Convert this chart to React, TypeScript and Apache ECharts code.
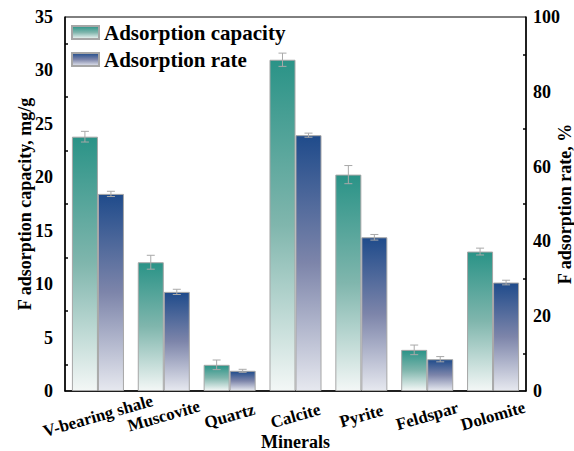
import React, { useEffect, useRef } from "react";
import * as echarts from "echarts";

// Minerals tested and their fluoride uptake (mean ± error)
const minerals = ["V-bearing shale", "Muscovite", "Quartz", "Calcite", "Pyrite", "Feldspar", "Dolomite"];
const capacity = [23.8, 12.05, 2.45, 31.0, 20.25, 3.85, 13.05];
const capacityErr = [0.5, 0.65, 0.45, 0.62, 0.85, 0.45, 0.32];
const rate = [52.7, 26.5, 5.4, 68.4, 41.1, 8.5, 29.0];
const rateErr = [0.7, 0.7, 0.4, 0.55, 0.75, 0.7, 0.62];

const FONT = "'Liberation Serif', 'Times New Roman', serif";
const CAT_GAP = 0.21; // share of the category band left empty

const tealFill = new echarts.graphic.LinearGradient(0, 0, 0, 1, [
  { offset: 0, color: "#2a9387" },
  { offset: 0.5, color: "#80b6ad" },
  { offset: 1, color: "#f3f7f6" },
]);
const blueFill = new echarts.graphic.LinearGradient(0, 0, 0, 1, [
  { offset: 0, color: "#1f4b8b" },
  { offset: 0.5, color: "#7d85aa" },
  { offset: 1, color: "#e6e8ef" },
]);

// Error bar (vertical whisker with caps) drawn beside the category centre
function errorBar(shift: number) {
  return (params: any, api: any) => {
    const i = api.value(0);
    const v = api.value(1);
    const e = api.value(2);
    const band = api.size([1, 0])[0];
    const dx = shift * band * (1 - CAT_GAP) / 4;
    const hi = api.coord([i, v + e]);
    const lo = api.coord([i, v - e]);
    const x = hi[0] + dx;
    const cap = 4;
    const style = { stroke: "#a9a9a9", lineWidth: 1 };
    return {
      type: "group",
      children: [
        { type: "line", shape: { x1: x, y1: hi[1], x2: x, y2: lo[1] }, style },
        { type: "line", shape: { x1: x - cap, y1: hi[1], x2: x + cap, y2: hi[1] }, style },
        { type: "line", shape: { x1: x - cap, y1: lo[1], x2: x + cap, y2: lo[1] }, style },
      ],
    };
  };
}

export default function App() {
  const ref = useRef<HTMLDivElement>(null);

  useEffect(() => {
    if (!ref.current) return;
    const chart = echarts.init(ref.current, null, { renderer: "svg" });
    const bold = { fontFamily: FONT, fontWeight: "bold" as const, color: "#000" };

    chart.setOption({
      animation: false,
      backgroundColor: "#fff",
      textStyle: { fontFamily: FONT },
      grid: {
        left: 65,
        right: 48,
        top: 17,
        bottom: 60,
        outerBoundsMode: "none",
        containLabel: false,
        show: true,
        borderColor: "#000",
        borderWidth: 1,
      },
      legend: {
        data: ["Adsorption capacity", "Adsorption rate"],
        orient: "vertical",
        left: 71,
        top: 22,
        padding: 0,
        itemWidth: 27,
        itemHeight: 13,
        itemGap: 6,
        icon: "rect",
        textStyle: { ...bold, fontSize: 21 },
      },
      xAxis: {
        type: "category",
        data: minerals,
        name: "Minerals",
        nameLocation: "middle",
        nameGap: 42,
        nameMoveOverlap: false,
        nameTextStyle: { ...bold, fontSize: 18 },
        axisLine: { lineStyle: { color: "#000", width: 1.5 } },
        axisTick: { inside: true, alignWithLabel: true, length: 5, lineStyle: { color: "#000", width: 1.5 } },
        axisLabel: {
          ...bold,
          fontSize: 17,
          rotate: 16,
          align: "center",
          verticalAlign: "middle",
          margin: 25,
          interval: 0,
        },
      },
      yAxis: [
        {
          type: "value",
          min: 0,
          max: 35,
          interval: 5,
          name: "F adsorption capacity, mg/g",
          nameLocation: "middle",
          nameGap: 31,
          nameMoveOverlap: false,
          nameTextStyle: { ...bold, fontSize: 18 },
          axisLine: { show: true, lineStyle: { color: "#000", width: 1.5 } },
          axisTick: { inside: true, length: 6, lineStyle: { color: "#000", width: 1.5 } },
          minorTick: { show: true, splitNumber: 2, length: 3, lineStyle: { color: "#000", width: 1.5 } },
          axisLabel: { ...bold, fontSize: 18, margin: 12 },
          splitLine: { show: false },
        },
        {
          type: "value",
          min: 0,
          max: 100,
          interval: 20,
          position: "right",
          name: "F adsorption rate, %",
          nameLocation: "middle",
          nameGap: 30,
          nameMoveOverlap: false,
          nameTextStyle: { ...bold, fontSize: 18 },
          axisLine: { show: true, lineStyle: { color: "#000", width: 1.5 } },
          axisTick: { inside: true, length: 6, lineStyle: { color: "#000", width: 1.5 } },
          minorTick: { show: true, splitNumber: 2, length: 3, lineStyle: { color: "#000", width: 1.5 } },
          axisLabel: { ...bold, fontSize: 18, margin: 7 },
          splitLine: { show: false },
        },
      ],
      series: [
        {
          name: "Adsorption capacity",
          type: "bar",
          yAxisIndex: 0,
          data: capacity,
          barGap: "0%",
          barCategoryGap: `${CAT_GAP * 100}%`,
          itemStyle: { color: tealFill, borderColor: "#a6a6a6", borderWidth: 1 },
        },
        {
          name: "Adsorption rate",
          type: "bar",
          yAxisIndex: 1,
          data: rate,
          barGap: "0%",
          barCategoryGap: `${CAT_GAP * 100}%`,
          itemStyle: { color: blueFill, borderColor: "#a6a6a6", borderWidth: 1 },
        },
        {
          name: "capacity error",
          type: "custom",
          yAxisIndex: 0,
          z: 5,
          renderItem: errorBar(-1),
          data: capacity.map((v, i) => [i, v, capacityErr[i]]),
          encode: { x: 0, y: 1 },
          silent: true,
        },
        {
          name: "rate error",
          type: "custom",
          yAxisIndex: 1,
          z: 5,
          renderItem: errorBar(1),
          data: rate.map((v, i) => [i, v, rateErr[i]]),
          encode: { x: 0, y: 1 },
          silent: true,
        },
      ],
    });

    return () => chart.dispose();
  }, []);

  return <div ref={ref} style={{ width: 574, height: 451, position: "absolute", left: 0, top: 0 }} />;
}
